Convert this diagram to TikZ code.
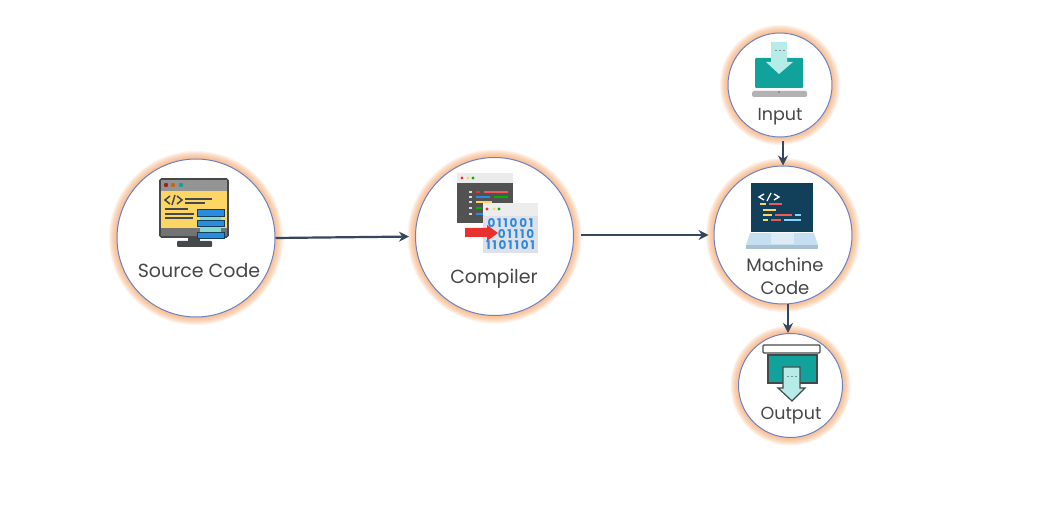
\documentclass[tikz,border=0pt]{standalone}
\usepackage{fontspec}
\setmainfont{Poppins}
\usetikzlibrary{arrows.meta}
\definecolor{glowc}{HTML}{F9A566}
\definecolor{ringc}{HTML}{6C82C4}
\definecolor{linkc}{HTML}{36465F}
\definecolor{labelc}{HTML}{474747}
\definecolor{tealc}{HTML}{12A29C}
\definecolor{mintc}{HTML}{B5ECE8}
\definecolor{darkc}{HTML}{46494C}
\definecolor{navyc}{HTML}{123F5A}
\definecolor{yelc}{HTML}{FCD565}
\definecolor{bluec}{HTML}{2B8BE0}
\definecolor{redc}{HTML}{E8302E}
\definecolor{deckc}{HTML}{C6DFF0}
\definecolor{padc}{HTML}{DCEBF6}
\definecolor{lipc}{HTML}{A9C0D0}
\tikzset{x=1pt, y=-1pt,
	stage/.style={circle, draw=ringc, fill=white, line width=1pt, inner sep=0pt},
	stage label/.style={text=labelc, font=\fontsize{19}{21}\selectfont, inner sep=0pt},
	small label/.style={stage label, font=\fontsize{17.5}{20}\selectfont},
	link/.style={draw=linkc, line width=2.2pt, -{Stealth[length=10pt,width=10pt]}},
	code line/.style={line width=1.8pt},
	bit row/.style={text=bluec, font=\fontsize{12}{13}\selectfont\bfseries\addfontfeature{LetterSpace=15}, inner sep=0pt}
}
\def\Stage#1#2#3#4{%
	\foreach \g in {1,...,8}
	\fill[glowc, opacity=0.13] (#2,#3) circle ({#4+\g});
	\node[stage, minimum size=#4*2pt] (#1) at (#2,#3) {};
}

\begin{document}
\begin{tikzpicture}
\useasboundingbox (0,0) rectangle (1039,510);
\fill[white] (0,0) rectangle (1039,510);
\Stage{source}{196}{238}{79}
\Stage{compiler}{494.5}{236.5}{79}
\Stage{input}{780}{85}{52}
\Stage{machine}{783}{235}{69}
\Stage{output}{790.5}{385.5}{52}
% connectors
\draw[link, shorten >=6pt] (source.east) -- (compiler.west);
\draw[link, shorten <=7pt, shorten >=5pt] (compiler.east |- machine.west) -- (machine.west);
\draw[link, shorten <=4pt] (machine.north |- input.south) -- (machine.north);
\draw[link] ([xshift=5pt]machine.south) -- ([xshift=-2.5pt]output.north);
% source code icon
\filldraw[draw=darkc, line width=1.6pt, fill=yelc, rounded corners=1.5pt] (160,179) rectangle (228,237);
\fill[black!42] (161,180) rectangle (227,191);
\fill[black!55] (161,228) rectangle (227,236);
\fill[redc!70!black] (166,185) circle (2.2);
\fill[orange!80!black] (173,185) circle (2.2);
\fill[tealc] (181,185) circle (2.2);
\fill[darkc] (188,237) rectangle (200,241);
\fill[darkc, rounded corners=1pt] (177,241) rectangle (212,247);
\draw[darkc, line width=1.5pt] (170,196) -- (165,200) -- (170,204) (172,205) -- (175,195) (177,196) -- (182,200) -- (177,204);
\foreach \xa/\xb/\ya in {185/212/199, 185/205/203, 165/188/209, 165/194/214, 165/193/218}
\draw[darkc, code line] (\xa,\ya) -- (\xb,\ya);
\fill[mintc!70!tealc] (200,215) rectangle (221,233);
\foreach \ya/\yb in {209/216, 220/226, 232/238}
\filldraw[draw=navyc, fill=bluec, line width=0.8pt] (197,\ya) rectangle (224,\yb);
\node[stage label] (sourcetext) at (199,271) {Source Code};
% compiler icon
\fill[black!8] (457,173) rectangle (513,183);
\fill[black!68] (457,183) rectangle (513,223);
\foreach \xa/\col in {462/redc, 468/yelc, 473/green!70!black}
\fill[\col] (\xa,178) circle (1.6);
\foreach \ya/\xa/\xb/\col in {192/476/480/redc, 192/484/508/redc!80, 197/476/490/bluec, 197/494/508/green!70!black, 202/476/492/yelc, 208/476/482/green!70!black, 208/485/500/redc!80, 214/476/484/bluec}
\draw[\col, code line] (\xa,\ya) -- (\xb,\ya);
\foreach \ya in {192,197,202,208,214}
\fill[white!85!black] (469,\ya-1) rectangle (472,\ya+1);
\fill[black!7] (483,203) rectangle (538,216);
\fill[blue!25!black!12] (483,216) rectangle (538,253);
\foreach \xa/\col in {487/redc, 494/yelc, 499/green!70!black}
\fill[\col] (\xa,209) circle (1.6);
\node[bit row] (bitsa) at (510.5,223) {011001};
\node[bit row] (bitsb) at (516,234) {01110};
\node[bit row] (bitsc) at (510.5,245) {1101101};
\fill[redc] (465,228) -- (487,228) -- (487,225) -- (498,233) -- (487,241) -- (487,237) -- (465,237) -- cycle;
\node[stage label] (compilertext) at (494,279) {Compiler};
% input icon
\fill[tealc, rounded corners=1pt] (755,58) rectangle (803,88);
\fill[mintc] (771,42) -- (787,42) -- (787,62) -- (793,62) -- (779,74) -- (766,62) -- (771,62) -- cycle;
\foreach \xa in {775,779,783}
\fill[black!45] (\xa,50) rectangle +(2,1.5);
\fill[black!3] (752,88) rectangle (807,91);
\fill[black!30, rounded corners=1.5pt] (752,91) rectangle (807,97);
\fill[black!60] (779,92) circle (0.8);
\node[small label] (inputtext) at (780,117) {Input};
% machine code icon
\fill[navyc] (751,183) rectangle (813,232);
\fill[deckc] (750,233) -- (814,233) -- (818,245) -- (746,245) -- cycle;
\fill[padc] (771,233) rectangle (794,244);
\fill[lipc] (746,245) rectangle (818,249);
\draw[white, line width=1.3pt] (764,194) -- (759,197) -- (764,200) (767,201) -- (771,193) (774,194) -- (779,197) -- (774,200);
\foreach \ya/\xa/\xb/\col in {204/760/766/yelc, 204/769/782/redc!80, 210/763/776/yelc, 215/763/772/yelc, 215/775/792/redc!80, 215/795/801/cyan!50, 220/763/768/yelc, 220/771/781/redc!80, 220/784/801/cyan!50}
\draw[\col, code line] (\xa,\ya) -- (\xb,\ya);
\node[stage label, font=\fontsize{18}{20}\selectfont] (machinetexta) at (785,265) {Machine};
\node[stage label, font=\fontsize{18}{20}\selectfont] (machinetextb) at (785,288) {Code};
% output icon
\filldraw[draw=darkc, line width=1.3pt, fill=white, rounded corners=1pt] (763,345) rectangle (820,353);
\filldraw[draw=darkc, line width=1.3pt, fill=tealc] (768,355) rectangle (817,383);
\filldraw[draw=darkc, line width=1.2pt, fill=mintc] (783,367) -- (800,367) -- (800,388) -- (805,388) -- (792,401) -- (778,388) -- (783,388) -- cycle;
\foreach \xa in {787,791,795}
\fill[black!45] (\xa,376) rectangle +(2,1.5);
\node[small label] (outputtext) at (791,416) {Output};
\end{tikzpicture}
\end{document}
